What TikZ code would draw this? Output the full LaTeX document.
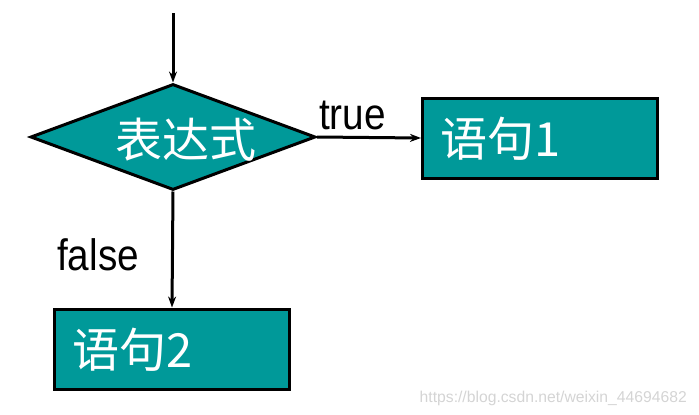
\documentclass[tikz,border=0pt]{standalone}
\usepackage{fontspec}
\setmainfont{Liberation Sans}
\newfontfamily\cjk{Noto Sans CJK SC}
\usetikzlibrary{shapes.geometric,arrows.meta}
\definecolor{tealfill}{HTML}{009999}
\definecolor{wmgray}{HTML}{D4D4D4}
\begin{document}
\begin{tikzpicture}[x=1pt,y=-1pt,
  boxstyle/.style={draw=black,line width=3pt,fill=tealfill,minimum width=235pt,minimum height=80pt,inner sep=0pt},
  cjktext/.style={text=white,font=\cjk\fontsize{47}{50}\selectfont,inner sep=0pt},
  flow/.style={line width=3pt,-{Stealth[length=11pt,width=8pt]}},
  lbl/.style={font=\fontsize{44}{48}\selectfont,inner sep=0pt,xscale=0.88}]
\useasboundingbox (0,0) rectangle (699,415);
\node[draw=black,line width=3pt,fill=tealfill,diamond,minimum width=285pt,minimum height=106pt,inner sep=0pt,aspect=2.7] (cond) at (173,137) {};
\node[cjktext] (condtxt) at (186,140) {表达式};
\coordinate (start) at (173,13);
\node[boxstyle] (s1) at (540,138) {};
\node[cjktext,anchor=west] (s1t) at (440,139) {语句1};
\node[boxstyle] (s2) at (172,349) {};
\node[cjktext,anchor=west] (s2t) at (72,350) {语句2};
\draw[flow] (start) -- (cond.north);
\draw[flow] (cond.east) -- (s1.west);
\draw[flow] (cond.south) -- (s2.north);
\node[lbl,anchor=base west] (ltrue) at (319,129) {true};
\node[lbl,anchor=base west] (lfalse) at (57,270) {false};
\node[text=wmgray,font=\fontsize{15.7}{17}\selectfont,anchor=base east,inner sep=0pt] (wm) at (687,402) {https://blog.csdn.net/weixin\_44694682};
\end{tikzpicture}
\end{document}
